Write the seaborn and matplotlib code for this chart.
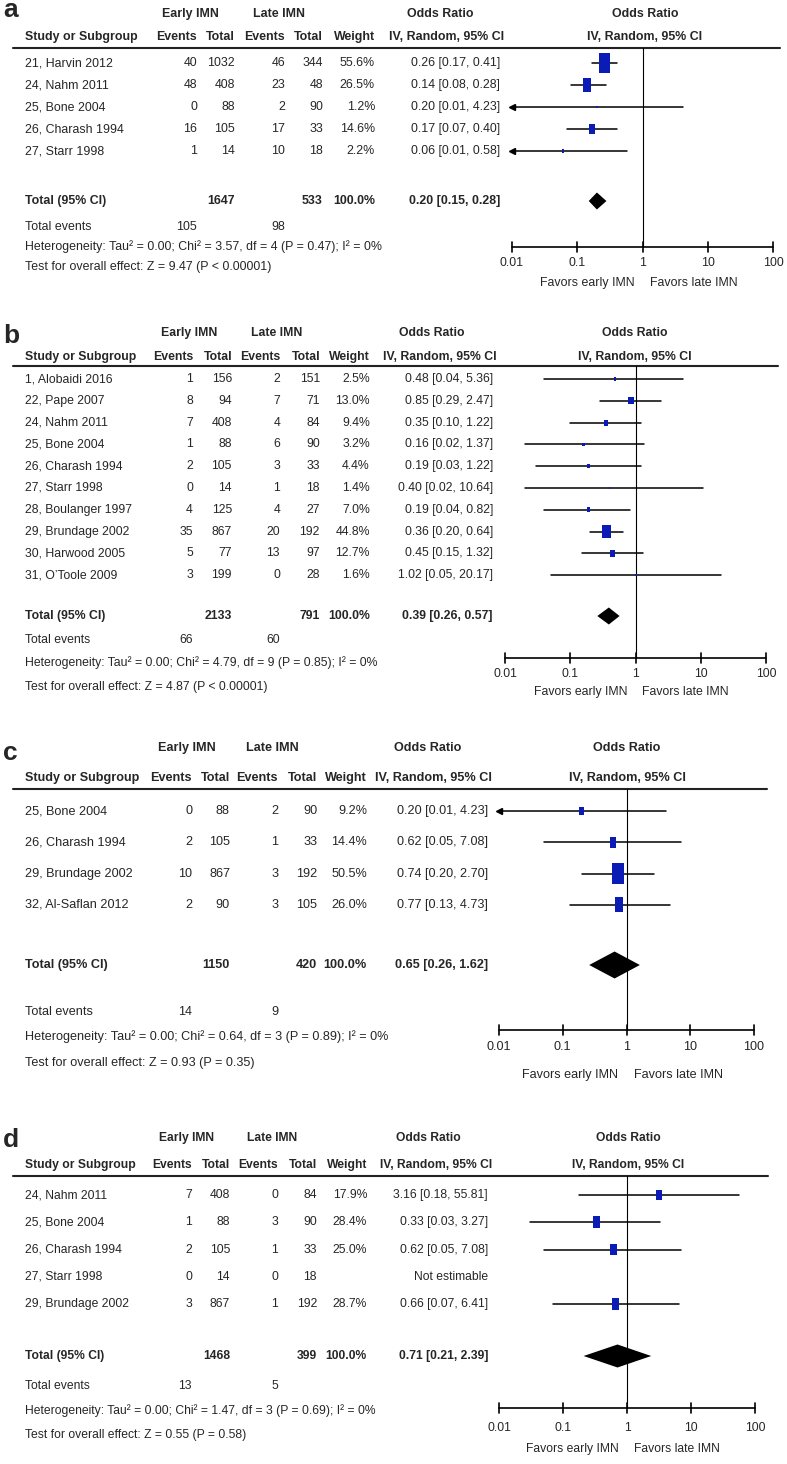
import numpy as np
import pandas as pd
import matplotlib
matplotlib.use("Agg")
import matplotlib.pyplot as plt
import seaborn as sns

# -------------------------------
# Data: panel a
# -------------------------------
A_STUDY = ["21, Harvin 2012", "24, Nahm 2011", "25, Bone 2004", "26, Charash 1994", "27, Starr 1998"]
A_EARLY_EV = [40, 48, 0, 16, 1]
A_EARLY_N = [1032, 408, 88, 105, 14]
A_LATE_EV = [46, 23, 2, 17, 10]
A_LATE_N = [344, 48, 90, 33, 18]
A_WEIGHT = [55.6, 26.5, 1.2, 14.6, 2.2]
A_OR = [0.26, 0.14, 0.20, 0.17, 0.06]
A_LO = [0.17, 0.08, 0.01, 0.07, 0.01]
A_HI = [0.41, 0.28, 4.23, 0.40, 0.58]
A_TOTAL_N = [1647, 533]
A_TOTAL_EV = [105, 98]
A_POOLED = [0.20, 0.15, 0.28]
A_HET = "Heterogeneity: Tau² = 0.00; Chi² = 3.57, df = 4 (P = 0.47); I² = 0%"
A_TEST = "Test for overall effect: Z = 9.47 (P < 0.00001)"

# -------------------------------
# Data: panel b
# -------------------------------
B_STUDY = ["1, Alobaidi 2016", "22, Pape 2007", "24, Nahm 2011", "25, Bone 2004", "26, Charash 1994",
           "27, Starr 1998", "28, Boulanger 1997", "29, Brundage 2002", "30, Harwood 2005", "31, O\u2019Toole 2009"]
B_EARLY_EV = [1, 8, 7, 1, 2, 0, 4, 35, 5, 3]
B_EARLY_N = [156, 94, 408, 88, 105, 14, 125, 867, 77, 199]
B_LATE_EV = [2, 7, 4, 6, 3, 1, 4, 20, 13, 0]
B_LATE_N = [151, 71, 84, 90, 33, 18, 27, 192, 97, 28]
B_WEIGHT = [2.5, 13.0, 9.4, 3.2, 4.4, 1.4, 7.0, 44.8, 12.7, 1.6]
B_OR = [0.48, 0.85, 0.35, 0.16, 0.19, 0.40, 0.19, 0.36, 0.45, 1.02]
B_LO = [0.04, 0.29, 0.10, 0.02, 0.03, 0.02, 0.04, 0.20, 0.15, 0.05]
B_HI = [5.36, 2.47, 1.22, 1.37, 1.22, 10.64, 0.82, 0.64, 1.32, 20.17]
B_TOTAL_N = [2133, 791]
B_TOTAL_EV = [66, 60]
B_POOLED = [0.39, 0.26, 0.57]
B_HET = "Heterogeneity: Tau² = 0.00; Chi² = 4.79, df = 9 (P = 0.85); I² = 0%"
B_TEST = "Test for overall effect: Z = 4.87 (P < 0.00001)"

# -------------------------------
# Data: panel c
# -------------------------------
C_STUDY = ["25, Bone 2004", "26, Charash 1994", "29, Brundage 2002", "32, Al-Saflan 2012"]
C_EARLY_EV = [0, 2, 10, 2]
C_EARLY_N = [88, 105, 867, 90]
C_LATE_EV = [2, 1, 3, 3]
C_LATE_N = [90, 33, 192, 105]
C_WEIGHT = [9.2, 14.4, 50.5, 26.0]
C_OR = [0.20, 0.62, 0.74, 0.77]
C_LO = [0.01, 0.05, 0.20, 0.13]
C_HI = [4.23, 7.08, 2.70, 4.73]
C_TOTAL_N = [1150, 420]
C_TOTAL_EV = [14, 9]
C_POOLED = [0.65, 0.26, 1.62]
C_HET = "Heterogeneity: Tau² = 0.00; Chi² = 0.64, df = 3 (P = 0.89); I² = 0%"
C_TEST = "Test for overall effect: Z = 0.93 (P = 0.35)"

# -------------------------------
# Data: panel d
# -------------------------------
D_STUDY = ["24, Nahm 2011", "25, Bone 2004", "26, Charash 1994", "27, Starr 1998", "29, Brundage 2002"]
D_EARLY_EV = [7, 1, 2, 0, 3]
D_EARLY_N = [408, 88, 105, 14, 867]
D_LATE_EV = [0, 3, 1, 0, 1]
D_LATE_N = [84, 90, 33, 18, 192]
D_WEIGHT = [17.9, 28.4, 25.0, np.nan, 28.7]
D_OR = [3.16, 0.33, 0.62, np.nan, 0.66]
D_LO = [0.18, 0.03, 0.05, np.nan, 0.07]
D_HI = [55.81, 3.27, 7.08, np.nan, 6.41]
D_TOTAL_N = [1468, 399]
D_TOTAL_EV = [13, 5]
D_POOLED = [0.71, 0.21, 2.39]
D_HET = "Heterogeneity: Tau² = 0.00; Chi² = 1.47, df = 3 (P = 0.69); I² = 0%"
D_TEST = "Test for overall effect: Z = 0.55 (P = 0.58)"

TICKS = [0.01, 0.1, 1, 10, 100]
TICK_LABELS = ["0.01", "0.1", "1", "10", "100"]

# -------------------------------
# Layout (pixel positions per panel)
# -------------------------------
LAY_A = dict(top=0, bottom=290, lab_y=17, h1=14, h2=37, rule=48, row0=63, dy=22, tot=201, ev_row=227,
             het=247, test=267, axis=247, tick=263, fav=283, plot=(512, 773),
             cols=(197, 235, 285, 323, 375, 500), early_c=190, late_c=279, or_c=440, fp_c=645,
             rule_r=780, fs=8.9, c=2.55, asp=0.6, dh=17)
LAY_B = dict(top=290, bottom=720, lab_y=343, h1=333, h2=357, rule=366, row0=379, dy=21.8, tot=616, ev_row=640,
             het=663, test=687, axis=658, tick=674, fav=692, plot=(505, 766),
             cols=(193, 232, 280, 320, 370, 493), early_c=189, late_c=277, or_c=432, fp_c=635,
             rule_r=778, fs=8.8, c=1.94, asp=0.75, dh=17)
LAY_C = dict(top=720, bottom=1090, lab_y=760, h1=748, h2=778, rule=789, row0=811, dy=31.3, tot=965, ev_row=1012,
             het=1037, test=1063, axis=1030, tick=1047, fav=1075, plot=(499, 754),
             cols=(192, 230, 278, 317, 367, 488), early_c=187, late_c=272, or_c=428, fp_c=627,
             rule_r=767, fs=9.1, c=2.95, asp=0.55, dh=27)
LAY_D = dict(top=1090, bottom=1464, lab_y=1147, h1=1138, h2=1165, rule=1176, row0=1195, dy=27.3, tot=1356,
             ev_row=1386, het=1411, test=1435, axis=1408, tick=1428, fav=1449, plot=(499, 755),
             cols=(192, 230, 278, 317, 367, 488), early_c=187, late_c=272, or_c=428, fp_c=628,
             rule_r=768, fs=8.7, c=2.25, asp=0.6, dh=23)

W, H = 787, 1464
BLUE = "#0b1bb5"

sns.set_theme(style="white")
plt.rcParams['font.family'] = ['Liberation Sans', 'DejaVu Sans']

fig = plt.figure(figsize=(W / 100, H / 100), dpi=100)


def draw_panel(label, lay, study, ev1, n1, ev2, n2, weight, orr, lo, hi, tot_n, tot_ev, pooled, het, test):
    top, bottom = lay['top'], lay['bottom']
    fs = lay['fs']
    tab = fig.add_axes([0, 1 - bottom / H, 1, (bottom - top) / H])
    tab.set_xlim(0, W)
    tab.set_ylim(bottom, top)
    tab.axis('off')
    px0, px1 = lay['plot']
    fp = fig.add_axes([px0 / W, 1 - bottom / H, (px1 - px0) / W, (bottom - top) / H])
    fp.set_xscale('log')

    c_ev1, c_n1, c_ev2, c_n2, c_w, c_or = lay['cols']
    bold = dict(fontsize=fs, fontweight='bold', va='center')
    norm = dict(fontsize=fs, va='center')

    # panel letter + headers
    tab.text(3, lay['lab_y'], label, fontsize=19, fontweight='bold', va='baseline')
    tab.text(lay['early_c'], lay['h1'], "Early IMN", ha='center', **bold)
    tab.text(lay['late_c'], lay['h1'], "Late IMN", ha='center', **bold)
    tab.text(lay['or_c'], lay['h1'], "Odds Ratio", ha='center', **bold)
    tab.text(lay['fp_c'], lay['h1'], "Odds Ratio", ha='center', **bold)
    tab.text(25, lay['h2'], "Study or Subgroup", ha='left', **bold)
    for x, s in zip((c_ev1, c_n1, c_ev2, c_n2, c_w), ("Events", "Total", "Events", "Total", "Weight")):
        tab.text(x, lay['h2'], s, ha='right', **bold)
    tab.text(c_or + 4, lay['h2'], "IV, Random, 95% CI", ha='right', **bold)
    tab.text(lay['fp_c'], lay['h2'], "IV, Random, 95% CI", ha='center', **bold)
    tab.plot([13, lay['rule_r']], [lay['rule'], lay['rule']], color='#222222', lw=1.5)

    # study rows
    ys = [lay['row0'] + i * lay['dy'] for i in range(len(study))]
    for i, y in enumerate(ys):
        tab.text(25, y, study[i], ha='left', **norm)
        for x, v in zip((c_ev1, c_n1, c_ev2, c_n2), (ev1[i], n1[i], ev2[i], n2[i])):
            tab.text(x, y, str(v), ha='right', **norm)
        if np.isnan(orr[i]):
            tab.text(c_or, y, "Not estimable", ha='right', **norm)
            continue
        tab.text(c_w, y, f"{weight[i]:.1f}%", ha='right', **norm)
        tab.text(c_or, y, f"{orr[i]:.2f} [{lo[i]:.2f}, {hi[i]:.2f}]", ha='right', **norm)
        # confidence interval
        fp.plot([max(lo[i], 0.01), hi[i]], [y, y], color='black', lw=1.1, clip_on=False)
        if lo[i] <= 0.01:
            fp.plot([0.01], [y], marker='<', ms=4.5, color='black', clip_on=False)

    # weighted squares
    df = pd.DataFrame({"or": orr, "y": ys, "w": weight}).dropna()
    verts = np.array([(-lay['asp'], -1), (lay['asp'], -1), (lay['asp'], 1), (-lay['asp'], 1)])
    smax = 0.5184 * lay['c'] ** 2 * 100
    sns.scatterplot(data=df, x="or", y="y", size="w", sizes=(0, smax), size_norm=(0, 100),
                    marker=verts, color=BLUE, edgecolor='none', linewidth=0, legend=False,
                    ax=fp, zorder=3, clip_on=False)

    # pooled row
    y = lay['tot']
    tab.text(25, y, "Total (95% CI)", ha='left', **bold)
    tab.text(c_n1, y, str(tot_n[0]), ha='right', **bold)
    tab.text(c_n2, y, str(tot_n[1]), ha='right', **bold)
    tab.text(c_w, y, "100.0%", ha='right', **bold)
    tab.text(c_or, y, f"{pooled[0]:.2f} [{pooled[1]:.2f}, {pooled[2]:.2f}]", ha='right', **bold)
    h = lay['dh'] / 2
    fp.fill([pooled[1], pooled[0], pooled[2], pooled[0]], [y, y - h, y, y + h], color='black', lw=0)

    tab.text(25, lay['ev_row'], "Total events", ha='left', **norm)
    tab.text(c_ev1, lay['ev_row'], str(tot_ev[0]), ha='right', **norm)
    tab.text(c_ev2, lay['ev_row'], str(tot_ev[1]), ha='right', **norm)
    tab.text(25, lay['het'], het, ha='left', **norm)
    tab.text(25, lay['test'], test, ha='left', **norm)

    # line of no effect and axis
    fp.plot([1, 1], [lay['rule'], lay['axis']], color='black', lw=0.8, clip_on=False)
    fp.plot([0.01, 100], [lay['axis'], lay['axis']], color='black', lw=1.2, clip_on=False)
    for t, tl in zip(TICKS, TICK_LABELS):
        fp.plot([t, t], [lay['axis'] - 5, lay['axis'] + 5], color='black', lw=1.2, clip_on=False)
        fp.text(t, lay['tick'], tl, ha='center', **norm)
    mid = (px0 + px1) / 2
    tab.text(mid - 8, lay['fav'], "Favors early IMN", ha='right', **norm)
    tab.text(mid + 7, lay['fav'], "Favors late IMN", ha='left', **norm)

    fp.set_xlim(0.01, 100)
    fp.set_ylim(bottom, top)
    fp.axis('off')


draw_panel("a", LAY_A, A_STUDY, A_EARLY_EV, A_EARLY_N, A_LATE_EV, A_LATE_N, A_WEIGHT, A_OR, A_LO, A_HI,
           A_TOTAL_N, A_TOTAL_EV, A_POOLED, A_HET, A_TEST)
draw_panel("b", LAY_B, B_STUDY, B_EARLY_EV, B_EARLY_N, B_LATE_EV, B_LATE_N, B_WEIGHT, B_OR, B_LO, B_HI,
           B_TOTAL_N, B_TOTAL_EV, B_POOLED, B_HET, B_TEST)
draw_panel("c", LAY_C, C_STUDY, C_EARLY_EV, C_EARLY_N, C_LATE_EV, C_LATE_N, C_WEIGHT, C_OR, C_LO, C_HI,
           C_TOTAL_N, C_TOTAL_EV, C_POOLED, C_HET, C_TEST)
draw_panel("d", LAY_D, D_STUDY, D_EARLY_EV, D_EARLY_N, D_LATE_EV, D_LATE_N, D_WEIGHT, D_OR, D_LO, D_HI,
           D_TOTAL_N, D_TOTAL_EV, D_POOLED, D_HET, D_TEST)

fig.savefig("out.png", dpi=100)
